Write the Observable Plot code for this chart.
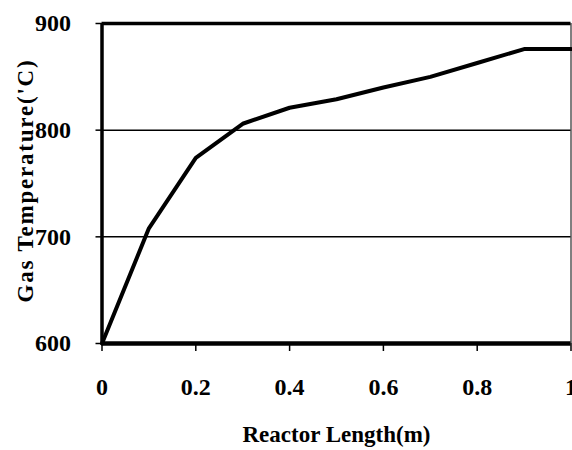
<!DOCTYPE html>
<html>
<head>
<meta charset="utf-8">
<script src="https://cdn.jsdelivr.net/npm/d3@7"></script>
<script src="https://cdn.jsdelivr.net/npm/@observablehq/plot@0.6"></script>
<style>
  html, body { margin: 0; padding: 0; background: #fff; }
  #chart svg { display: block; }
</style>
</head>
<body>
<div id="chart"></div>
<script>
const lengths = [0, 0.1, 0.2, 0.3, 0.4, 0.5, 0.6, 0.7, 0.8, 0.9, 1.0];
const temps   = [600, 708, 774, 806, 821, 829, 840, 850, 863, 876, 876];
const xTicks = [0, 0.2, 0.4, 0.6, 0.8, 1];
const yTicks = [600, 700, 800, 900];
const gridValues = [700, 800];
const xTitle = "Reactor Length(m)";
const yTitle = "Gas Temperature('C)";

const data = lengths.map((x, i) => ({x, y: temps[i]}));
const font = "'Liberation Serif', 'Times New Roman', serif";

const chart = Plot.plot({
  width: 572,
  height: 450,
  marginLeft: 101.5,
  marginRight: 1.5,
  marginTop: 23,
  marginBottom: 107,
  style: {fontFamily: font, fontWeight: "bold", background: "#fff", color: "#000"},
  x: {domain: [0, 1]},
  y: {domain: [600, 900]},
  marks: [
    Plot.ruleY(gridValues, {stroke: "#000", strokeWidth: 1.5}),
    Plot.ruleY([900], {stroke: "#000", strokeWidth: 3.5}),
    Plot.ruleY([600], {stroke: "#000", strokeWidth: 4.5}),
    Plot.ruleX([1], {stroke: "#000", strokeWidth: 1}),
    Plot.ruleX([0], {stroke: "#000", strokeWidth: 3.5}),
    Plot.axisY(yTicks, {tickSize: 6, tickPadding: 25, tickFormat: d => String(d), fontSize: 24, strokeWidth: 1.5, label: null}),
    Plot.axisX(xTicks, {tickSize: 8, tickPadding: 26, tickFormat: d => String(d), fontSize: 24, strokeWidth: 1.5, label: null}),
    Plot.line(data, {x: "x", y: "y", stroke: "#000", strokeWidth: 4, strokeLinejoin: "miter"}),
    Plot.text([yTitle], {frameAnchor: "left", textAnchor: "middle", dx: -76, dy: -3, rotate: -90, fontSize: 23, fontWeight: "bold", fill: "#000"}),
    Plot.text([xTitle], {frameAnchor: "bottom", dy: 98, fontSize: 23, fontWeight: "bold", fill: "#000"})
  ]
});

d3.select(chart).selectAll("text").filter(function() { return this.textContent === yTitle; })
  .style("letter-spacing", "1.8px");

document.getElementById("chart").appendChild(chart);
</script>
</body>
</html>
